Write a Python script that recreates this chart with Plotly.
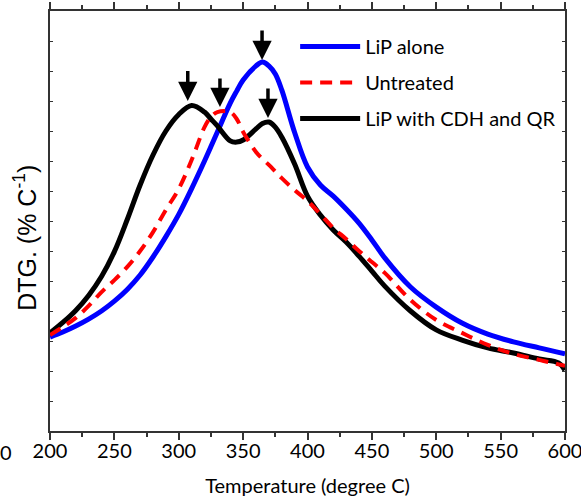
import plotly.graph_objects as go

# temperatures (degree C) where the curves were read
temp = [200, 210, 220, 230, 240, 250, 260, 270, 280, 290, 300, 310, 320, 325, 330,
        340, 345, 350, 360, 365, 370, 375, 380, 390, 400, 410, 420, 430, 440, 450,
        460, 480, 500, 520, 540, 560, 580, 595, 600]

# DTG (arbitrary units, axis unlabelled)
lip_alone = [3.13, 3.3, 3.5, 3.73, 4.0, 4.33, 4.72, 5.2, 5.8, 6.48, 7.22, 8.08, 9.0, 9.48, 9.97,
             10.93, 11.33, 11.7, 12.17, 12.3, 12.17, 11.9, 11.37, 9.95, 8.8, 8.2, 7.83, 7.4, 6.93, 6.37,
             5.77, 4.8, 4.13, 3.6, 3.23, 2.97, 2.77, 2.62, 2.57]
untreated = [3.2, 3.47, 3.77, 4.17, 4.63, 5.03, 5.47, 6.0, 6.63, 7.37, 8.07, 9.03, 10.13, 10.47, 10.63,
             10.63, 10.4, 9.97, 9.3, 9.07, 8.87, 8.65, 8.43, 8.03, 7.67, 7.23, 6.77, 6.4, 6.0, 5.63,
             5.27, 4.37, 3.7, 3.27, 2.87, 2.57, 2.37, 2.22, 2.17]
lip_cdh_qr = [3.27, 3.62, 4.02, 4.52, 5.15, 5.98, 7.05, 8.2, 9.2, 10.0, 10.55, 10.85, 10.63, 10.4, 10.17,
              9.67, 9.63, 9.7, 10.07, 10.25, 10.3, 10.13, 9.8, 8.9, 7.83, 7.2, 6.7, 6.3, 5.83, 5.33,
              4.83, 4.0, 3.37, 3.03, 2.77, 2.6, 2.4, 2.27, 2.03]

# peak markers: (temperature, tip, tail)
peak_arrows = [(307, 11.0, 12.05), (332, 10.8, 11.8), (364.7, 12.37, 13.4), (369.3, 10.43, 11.47)]

font = "Lato"

fig = go.Figure()
fig.add_trace(go.Scatter(x=temp, y=lip_alone, name="LiP alone", mode="lines",
                         line=dict(color="#0000ff", width=5, shape="spline", smoothing=1),
                         legendrank=1, legendgroup="a"))
fig.add_trace(go.Scatter(x=temp, y=lip_cdh_qr, name="LiP with CDH and QR", mode="lines",
                         line=dict(color="black", width=5, shape="spline", smoothing=1),
                         legendrank=3, legendgroup="c"))
fig.add_trace(go.Scatter(x=temp, y=untreated, name="Untreated", mode="lines",
                         line=dict(color="#ff0000", width=4, dash="12px,8px", shape="spline", smoothing=1),
                         legendrank=2, legendgroup="b"))

for t, tip, tail in peak_arrows:
    fig.add_annotation(x=t, y=tip, ax=t, ay=tail, xref="x", yref="y", axref="x", ayref="y",
                       text="", showarrow=True, arrowhead=2, arrowsize=1.1, arrowwidth=3.5,
                       arrowcolor="black")

# stray label at the far left
fig.add_annotation(text="0", xref="paper", yref="paper", x=0, y=0, xanchor="right", yanchor="top",
                   xshift=-36, yshift=-7, showarrow=False, font=dict(family=font, size=20, color="black"))

# y title as a rotated annotation (sits a bit below the axis centre in the original)
fig.add_annotation(text="DTG. (% C<sup>-1</sup>)", xref="paper", yref="paper", x=0, y=0.46,
                   xanchor="center", yanchor="middle", xshift=-25, textangle=-90, showarrow=False,
                   font=dict(family="Liberation Sans", size=25, color="black"))

fig.update_xaxes(range=[200, 600], tickvals=list(range(200, 601, 50)), ticks="outside", ticklen=7,
                 tickwidth=1.5, tickcolor="#333", showline=True, linecolor="#333", linewidth=1.5,
                 mirror="allticks", showgrid=False, zeroline=False, automargin=False,
                 ticklabeloverflow="allow", ticklabelstandoff=-6,
                 minor=dict(tickvals=list(range(225, 600, 50)), ticks="outside", ticklen=4, tickcolor="#333"),
                 tickfont=dict(family=font, size=20, color="black"),
                 title=dict(text="Temperature (degree C)", font=dict(family=font, size=20, color="black"),
                            standoff=18))
fig.update_yaxes(range=[0, 14], dtick=1, ticks="inside", ticklen=3, tickwidth=1, tickcolor="#333",
                 showticklabels=False, showline=True, linecolor="#333", linewidth=1.5,
                 mirror="allticks", showgrid=False, zeroline=False, automargin=False)

fig.update_layout(
    width=581, height=500,
    margin=dict(l=50, r=16, t=11, b=69),
    plot_bgcolor="white", paper_bgcolor="white",
    showlegend=True,
    legend=dict(x=0.476, y=0.962, xanchor="left", yanchor="top", bgcolor="rgba(0,0,0,0)",
                font=dict(family=font, size=20, color="black"), tracegroupgap=7,
                itemwidth=60),
)

# the page has a default 8px body margin; drop it so the figure sits at 0,0
fig.write_html("out.html", config={"displayModeBar": False},
               post_script="document.body.style.margin='0px';")
